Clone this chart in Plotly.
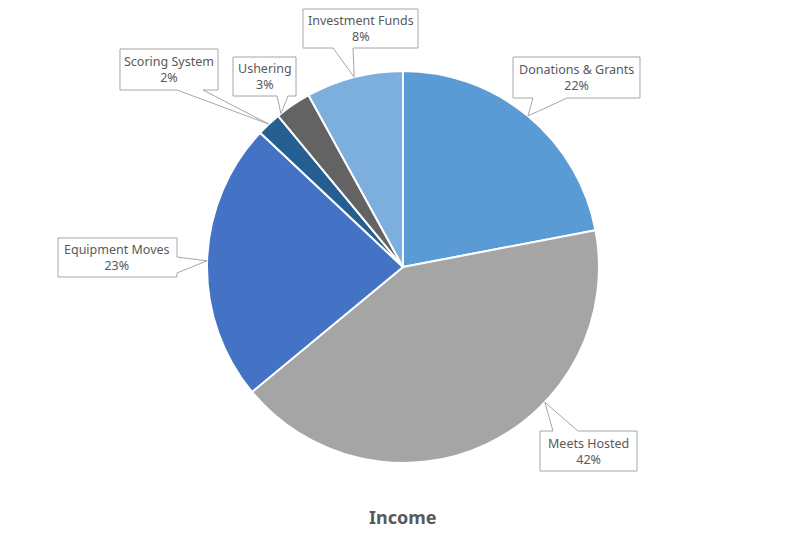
"""Income breakdown pie with Excel-style callout labels."""
import math

import plotly.graph_objects as go

# ── Data ──────────────────────────────────────────────────────────────────────
labels = ["Donations & Grants", "Meets Hosted", "Equipment Moves",
          "Scoring System", "Ushering", "Investment Funds"]
values = [22, 42, 23, 2, 3, 8]
colors = ["#5B9BD5", "#A5A5A5", "#4472C4", "#255E91", "#636363", "#7CAFDD"]

# ── Layout constants (pixels) ─────────────────────────────────────────────────
W, H = 806, 540
M_L, M_R, M_T, M_B = 0, 0, 71, 77
PW, PH = W - M_L - M_R, H - M_T - M_B
CX, CY = M_L + PW / 2, M_T + PH / 2
R = min(PW, PH) / 2

TEXT_COLOR = "#595959"
BORDER = "#A6A6A6"
FONT = "Noto Sans"

# callout box: (x0, y0, x1, y1), wedge side, wedge base span, leader position
# along the slice (0 = start, 1 = end)
callouts = {
    "Donations & Grants": ((513, 57, 640, 98), "bottom", (533, 567), 0.5),
    "Meets Hosted":       ((540, 431, 637, 471), "top", (553, 578), 0.36),
    "Equipment Moves":    ((58, 238, 177, 277), "right", (257, 273), 0.5),
    "Scoring System":     ((120, 49, 218, 90), "bottom", (177, 203), 0.5),
    "Ushering":           ((233, 57, 296, 96), "bottom", (277, 288), 0.1),
    "Investment Funds":   ((303, 9, 418, 48), "bottom", (333, 353), 0.5),
}


def px(x):
    return (x - M_L) / PW


def py(y):
    return (M_T + PH - y) / PH


def callout_path(box, side, base, tip):
    x0, y0, x1, y1 = box
    b0, b1 = base
    pts = [(x0, y0)]
    if side == "top":
        pts += [(b0, y0), tip, (b1, y0)]
    pts += [(x1, y0)]
    if side == "right":
        pts += [(x1, b0), tip, (x1, b1)]
    pts += [(x1, y1)]
    if side == "bottom":
        pts += [(b1, y1), tip, (b0, y1)]
    pts += [(x0, y1)]
    if side == "left":
        pts += [(x0, b1), tip, (x0, b0)]
    return "M " + " L ".join(f"{px(x):.5f},{py(y):.5f}" for x, y in pts) + " Z"


fig = go.Figure(go.Pie(
    labels=labels,
    values=values,
    sort=False,
    direction="clockwise",
    rotation=0,
    marker=dict(colors=colors, line=dict(color="white", width=2)),
    textinfo="none",
    hoverinfo="label+percent",
    domain=dict(x=[0, 1], y=[0, 1]),
))

total = sum(values)
cum = 0
for lab, val in zip(labels, values):
    box, side, base, frac = callouts[lab]
    ang = math.radians((cum + val * frac) / total * 360)
    cum += val
    tip = (CX + R * math.sin(ang), CY - R * math.cos(ang))
    fig.add_shape(
        type="path", xref="paper", yref="paper",
        path=callout_path(box, side, base, tip),
        fillcolor="white", line=dict(color=BORDER, width=1), layer="above",
    )
    fig.add_annotation(
        x=px((box[0] + box[2]) / 2), y=py((box[1] + box[3]) / 2),
        xref="paper", yref="paper", xanchor="center", yanchor="middle",
        text=f"{lab}<br>{val / total:.0%}",
        showarrow=False, align="center",
        font=dict(family=FONT, size=12.5, color=TEXT_COLOR),
    )

fig.add_annotation(
    x=px(CX), y=py(517), xref="paper", yref="paper",
    xanchor="center", yanchor="middle",
    text="<b>Income</b>", showarrow=False,
    font=dict(family=FONT, size=18, color=TEXT_COLOR),
)

fig.update_layout(
    width=W, height=H,
    margin=dict(l=M_L, r=M_R, t=M_T, b=M_B),
    paper_bgcolor="white",
    plot_bgcolor="white",
    showlegend=False,
)

fig.write_html(
    "out.html",
    config={"displayModeBar": False},
    post_script="document.body.style.margin='0';",
)
